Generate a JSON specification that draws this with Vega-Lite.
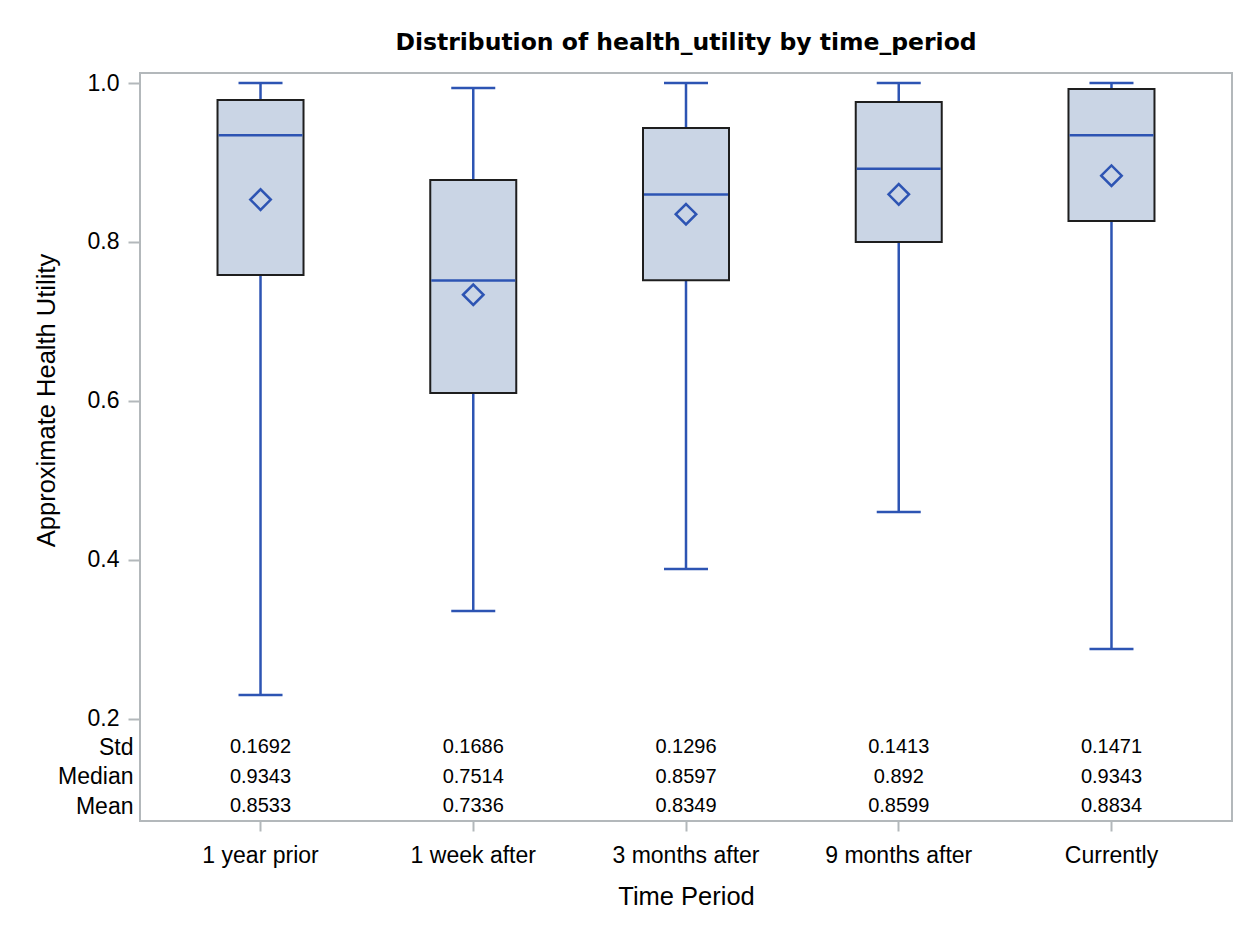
{
  "$schema": "https://vega.github.io/schema/vega-lite/v6.json",
  "autosize": "none",
  "width": 1092,
  "height": 748,
  "padding": {"left": 140, "top": 73, "right": 18, "bottom": 113},
  "background": "white",
  "title": {
    "text": "Distribution of health_utility by time_period",
    "font": "DejaVu Sans",
    "fontSize": 23.5,
    "fontWeight": "bold",
    "color": "#000000",
    "anchor": "middle",
    "offset": 18
  },
  "data": {
    "values": [
      {"period": "1 year prior", "lo": 0.230, "q1": 0.7585, "q3": 0.9786, "hi": 1.0, "Median": 0.9343, "Mean": 0.8533, "Std": 0.1692},
      {"period": "1 week after", "lo": 0.3358, "q1": 0.610, "q3": 0.878, "hi": 0.9937, "Median": 0.7514, "Mean": 0.7336, "Std": 0.1686},
      {"period": "3 months after", "lo": 0.3887, "q1": 0.752, "q3": 0.9434, "hi": 1.0, "Median": 0.8597, "Mean": 0.8349, "Std": 0.1296},
      {"period": "9 months after", "lo": 0.4604, "q1": 0.800, "q3": 0.976, "hi": 1.0, "Median": 0.892, "Mean": 0.8599, "Std": 0.1413},
      {"period": "Currently", "lo": 0.288, "q1": 0.8264, "q3": 0.9925, "hi": 1.0, "Median": 0.9343, "Mean": 0.8834, "Std": 0.1471}
    ]
  },
  "encoding": {
    "x": {
      "field": "period",
      "type": "nominal",
      "sort": null,
      "scale": {"type": "band", "paddingInner": 0, "paddingOuter": 0.0665},
      "axis": {
        "title": "Time Period",
        "labelAngle": 0,
        "labelFontSize": 23,
        "titleFontSize": 25.5,
        "tickSize": 10,
        "labelPadding": 13,
        "titlePadding": 17
      }
    }
  },
  "layer": [
    {
      "layer": [
        {
          "mark": {"type": "rule", "color": "#2D54B3", "strokeWidth": 2.5},
          "encoding": {
            "y": {
              "field": "lo",
              "type": "quantitative",
              "scale": {"domain": [0.0715, 1.0126], "nice": false, "zero": false},
              "axis": {
                "title": "Approximate Health Utility",
                "values": [0.2, 0.4, 0.6, 0.8, 1.0],
                "format": ".1f",
                "labelFontSize": 23,
                "titleFontSize": 25.5,
                "tickSize": 12,
                "labelPadding": 9,
                "titlePadding": 28,
                "titleY": 327
              }
            },
            "y2": {"field": "hi"}
          }
        },
        {
          "mark": {"type": "tick", "color": "#2D54B3", "size": 44, "thickness": 2.5, "opacity": 1},
          "encoding": {"y": {"field": "lo", "type": "quantitative"}}
        },
        {
          "mark": {"type": "tick", "color": "#2D54B3", "size": 44, "thickness": 2.5, "opacity": 1},
          "encoding": {"y": {"field": "hi", "type": "quantitative"}}
        },
        {
          "mark": {"type": "bar", "size": 86, "fill": "#CAD5E5", "stroke": "#1E1E1E", "strokeWidth": 2},
          "encoding": {
            "y": {"field": "q1", "type": "quantitative"},
            "y2": {"field": "q3"}
          }
        },
        {
          "mark": {"type": "tick", "color": "#2D54B3", "size": 84, "thickness": 2.5, "opacity": 1},
          "encoding": {"y": {"field": "Median", "type": "quantitative"}}
        },
        {
          "mark": {"type": "point", "shape": "diamond", "filled": false, "color": "#2D54B3", "size": 420, "strokeWidth": 2.5, "opacity": 1},
          "encoding": {"y": {"field": "Mean", "type": "quantitative"}}
        }
      ]
    },
    {
      "transform": [{"fold": ["Std", "Median", "Mean"], "as": ["stat", "value"]}],
      "mark": {"type": "text", "font": "Liberation Sans", "fontSize": 20, "color": "#000000", "align": "center", "baseline": "middle"},
      "encoding": {
        "y": {
          "field": "stat",
          "type": "nominal",
          "sort": null,
          "scale": {"type": "point", "domain": ["Std", "Median", "Mean"], "range": [674, 733], "padding": 0},
          "axis": {
            "orient": "left",
            "title": null,
            "domain": false,
            "ticks": false,
            "labelFontSize": 23,
            "labelPadding": 7
          }
        },
        "text": {"field": "value", "type": "quantitative", "format": ".4~f"}
      }
    }
  ],
  "resolve": {"scale": {"y": "independent"}, "axis": {"y": "independent"}},
  "config": {
    "view": {"stroke": "#B3B8BB", "strokeWidth": 2},
    "axis": {
      "labelFont": "Liberation Sans",
      "titleFont": "Liberation Sans",
      "labelColor": "#000000",
      "titleColor": "#000000",
      "titleFontWeight": "normal",
      "grid": false,
      "domain": false,
      "tickColor": "#B3B8BB",
      "tickWidth": 2
    }
  }
}
